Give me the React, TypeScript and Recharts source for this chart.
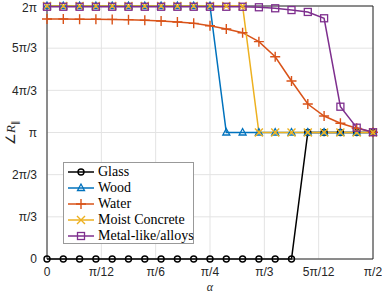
import {
  LineChart, Line, XAxis, YAxis, CartesianGrid, ReferenceLine,
} from 'recharts'

// angle of incidence in degrees (step pi/40)
const ALPHA_DEG = [0, 4.5, 9, 13.5, 18, 22.5, 27, 31.5, 36, 40.5, 45, 49.5, 54, 58.5, 63, 67.5, 72, 76.5, 81, 85.5, 90]

// phase of R_parallel, in units of pi
const GLASS = [0, 0, 0, 0, 0, 0, 0, 0, 0, 0, 0, 0, 0, 0, 0, 0, 1, 1, 1, 1, 1]
const WOOD = [2, 2, 2, 2, 2, 2, 2, 2, 2, 2, 2, 1, 1, 1, 1, 1, 1, 1, 1, 1, 1]
const WATER = [1.897, 1.897, 1.896, 1.895, 1.894, 1.892, 1.888, 1.881, 1.874, 1.863, 1.844,
  1.818, 1.789, 1.718, 1.599, 1.407, 1.225, 1.13, 1.073, 1.033, 1.002]
const CONCRETE = [2, 2, 2, 2, 2, 2, 2, 2, 2, 2, 2, 2, 2, 1, 1, 1, 1, 1, 1, 1, 1]
const METAL = [1.994, 1.994, 1.994, 1.994, 1.994, 1.994, 1.994, 1.994, 1.994, 1.994, 1.994,
  1.994, 1.994, 1.99, 1.982, 1.968, 1.953, 1.903, 1.204, 1.038, 1.002]

const X_TICKS = [0, 15, 30, 45, 60, 75, 90]
const X_LABELS = ['0', 'π/12', 'π/6', 'π/4', 'π/3', '5π/12', 'π/2']
const Y_TICKS = [0, 1 / 3, 2 / 3, 1, 4 / 3, 5 / 3, 2]
const Y_LABELS = ['0', 'π/3', '2π/3', 'π', '4π/3', '5π/3', '2π']

const data = ALPHA_DEG.map((a, i) => ({
  a, glass: GLASS[i], wood: WOOD[i], water: WATER[i], concrete: CONCRETE[i], metal: METAL[i],
}))

const SERIES = [
  { key: 'glass', name: 'Glass', color: '#000000', marker: 'circle' },
  { key: 'wood', name: 'Wood', color: '#0072BD', marker: 'triangle' },
  { key: 'water', name: 'Water', color: '#D95319', marker: 'plus' },
  { key: 'concrete', name: 'Moist Concrete', color: '#EDB120', marker: 'cross' },
  { key: 'metal', name: 'Metal-like/alloys', color: '#7E2F8E', marker: 'square' },
]

function Marker({ type, x, y, color }: { type: string; x: number; y: number; color: string }) {
  const s = 3.5
  if (type === 'circle') return <circle cx={x} cy={y} r={3} fill="none" stroke={color} strokeWidth={1.4} />
  if (type === 'triangle')
    return <polygon points={`${x},${y - s - 0.5} ${x - s},${y + s - 1} ${x + s},${y + s - 1}`} fill="none" stroke={color} strokeWidth={1.3} />
  if (type === 'plus')
    return <path d={`M${x - 5},${y}H${x + 5}M${x},${y - 5}V${y + 5}`} stroke={color} strokeWidth={1.4} />
  if (type === 'cross')
    return <path d={`M${x - 4},${y - 4}L${x + 4},${y + 4}M${x - 4},${y + 4}L${x + 4},${y - 4}`} stroke={color} strokeWidth={1.4} />
  return <rect x={x - s} y={y - s} width={2 * s} height={2 * s} fill="none" stroke={color} strokeWidth={1.3} />
}

const makeDot = (type: string, color: string) => (p: any) => (
  <g key={`${type}-${p.index}`}>
    <Marker type={type} x={p.cx} y={p.cy} color={color} />
  </g>
)

function LegendBox() {
  return (
    <div style={{
      position: 'absolute', left: 63, top: 162,
      width: 131, height: 82, border: '1px solid #999', background: '#fff', boxSizing: 'border-box',
      fontFamily: '"Liberation Serif", serif', fontSize: 14, color: '#000', paddingTop: 1,
    }}>
      {SERIES.map(s => (
        <div key={s.key} style={{ display: 'flex', alignItems: 'center', height: 16 }}>
          <svg width={34} height={16} style={{ flex: 'none' }}>
            <line x1={4} x2={30} y1={8} y2={8} stroke={s.color} strokeWidth={1.5} />
            <Marker type={s.marker} x={17} y={8} color={s.color} />
          </svg>
          <span style={{ whiteSpace: 'nowrap' }}>{s.name}</span>
        </div>
      ))}
    </div>
  )
}

const tickStyle = { fontSize: 12, fill: '#262626', fontFamily: 'Arial, "Liberation Sans", sans-serif' }

export default function App() {
  return (
    <div style={{ position: 'absolute', left: 0, top: 0, width: 382, height: 294, background: '#fff' }}>
      <LineChart width={382} height={294} data={data} margin={{ top: 6, right: 9, bottom: 0, left: 0 }}>
        <CartesianGrid stroke="#e3e3e3" />
        <XAxis dataKey="a" type="number" domain={[0, 90]} ticks={X_TICKS} height={35}
          tickFormatter={(v: number) => X_LABELS[X_TICKS.indexOf(v)] ?? ''}
          tick={tickStyle} tickLine={false} stroke="#262626" tickMargin={2}
          label={({ viewBox }: any) => (
            <text x={viewBox.x + viewBox.width / 2} y={291} textAnchor="middle"
              fontFamily='"Liberation Serif", serif' fontStyle="italic" fontSize={12} fill="#262626">α</text>
          )} />
        <YAxis type="number" domain={[0, 2]} ticks={Y_TICKS} width={47}
          tickFormatter={(v: number) => Y_LABELS[Y_TICKS.findIndex(t => Math.abs(t - v) < 1e-6)] ?? ''}
          tick={tickStyle} tickLine={false} stroke="#262626" tickMargin={4}
          label={({ viewBox }: any) => (
            <text transform={`translate(15, ${viewBox.y + viewBox.height / 2}) rotate(-90)`} textAnchor="middle"
              fontFamily='"Liberation Serif", serif' fontSize={13} fill="#262626">
              <tspan>∠</tspan><tspan fontStyle="italic">R</tspan><tspan fontSize={9} dy={3}>∥</tspan>
            </text>
          )} />
        <ReferenceLine y={2} stroke="#262626" />
        <ReferenceLine x={90} stroke="#262626" />
        {SERIES.map(s => (
          <Line key={s.key} dataKey={s.key} name={s.name} stroke={s.color} strokeWidth={1.5}
            dot={makeDot(s.marker, s.color)} activeDot={false} isAnimationActive={false} type="linear" />
        ))}
      </LineChart>
      <LegendBox />
    </div>
  )
}
